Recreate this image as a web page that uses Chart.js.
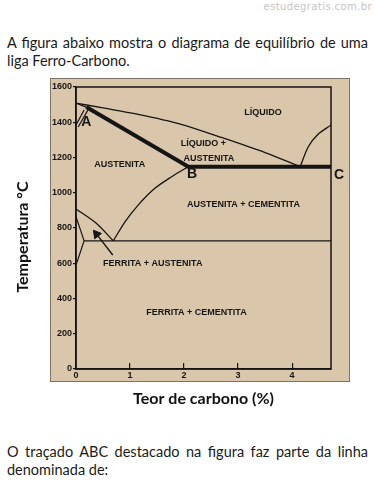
<!DOCTYPE html>
<html>
<head>
<meta charset="utf-8">
<script src="https://cdn.jsdelivr.net/npm/chart.js@4/dist/chart.umd.min.js"></script>
<style>
  body { margin: 0; background: #fff; width: 375px; height: 483px; position: relative; overflow: hidden; }
  .mark { position: absolute; right: 3px; top: 1px; font: 10px "DejaVu Sans"; color: #c4c4c4; letter-spacing: .4px; }
  .txt { position: absolute; left: 7px; width: 361px; font: 14.5px Lato; line-height: 18px; color: #1a1a1a; }
  .just { text-align: justify; text-align-last: justify; }
  #wrap { position: absolute; left: 0; top: 78px; width: 375px; height: 340px; }
</style>
</head>
<body>
<div class="mark">estudegratis.com.br</div>
<div class="txt" style="top:34px">
  <div class="just">A figura abaixo mostra o diagrama de equilíbrio de uma</div>
  <div>liga Ferro-Carbono.</div>
</div>
<div id="wrap"><canvas id="fe_c" width="375" height="340"></canvas></div>
<div class="txt" style="top:443px">
  <div class="just">O traçado ABC destacado na figura faz parte da linha</div>
  <div>denominada de:</div>
</div>
<script>
// axis ticks
const xTicks = [0, 1, 2, 3, 4];
const yTicks = [0, 200, 400, 600, 800, 1000, 1200, 1400, 1600];

// lines of the diagram, carbon % / temperature °C
const liquidusC = [0, 0.5, 1.11, 1.93, 2.67, 3.5, 4.15];
const liquidusT = [1509, 1481, 1447, 1390, 1316, 1228, 1148];

const liquidus2C = [4.15, 4.3, 4.48, 4.72];
const liquidus2T = [1148, 1261, 1332, 1384];

const deltaC = [0, 0.19];
const deltaT = [1509, 1486];

const delta1C = [0.15, 0];
const delta1T = [1469, 1384];
const delta2C = [0.22, 0.04];
const delta2T = [1469, 1373];

// traçado ABC
const abcC = [0.19, 2.08, 4.72];
const abcT = [1486, 1148, 1148];

const a3C = [0, 0.37, 0.69];
const a3T = [908, 828, 727];

const acmC = [0.69, 0.91, 1.15, 1.46, 1.77, 2.08];
const acmT = [727, 836, 930, 1025, 1091, 1148];

const alphaC = [0, 0.15];
const alphaT = [864, 727];
const solvusC = [0.15, 0];
const solvusT = [727, 590];

const eutectoidC = [0.15, 4.72];
const eutectoidT = [727, 727];

const arrowC = [0.68, 0.38];
const arrowT = [647, 765];

const regionText = ['LÍQUIDO', 'LÍQUIDO +', 'AUSTENITA', 'AUSTENITA', 'AUSTENITA + CEMENTITA', 'FERRITA + AUSTENITA', 'FERRITA + CEMENTITA'];
const regionC = [3.46, 2.36, 2.46, 0.81, 3.10, 1.42, 2.23];
const regionT = [1458, 1282, 1197, 1163, 936, 601, 323];

const pointText = ['A', 'B', 'C'];
const pointC = [0.19, 2.15, 4.87];
const pointT = [1401, 1106, 1101];

function pts(cs, ts) {
  return cs.map((c, i) => ({ x: c, y: ts[i] }));
}

function curve(cs, ts, width, tension) {
  return {
    data: pts(cs, ts),
    borderColor: '#151515',
    borderWidth: width,
    pointRadius: 0,
    tension: tension,
    fill: false
  };
}

const ink = '#151515';
const tickFont = { family: '"Liberation Sans"', weight: 'bold', size: 9 };

const paper = {
  id: 'paper',
  beforeDraw(chart) {
    const ctx = chart.ctx;
    ctx.save();
    ctx.fillStyle = '#dac7ab';
    ctx.fillRect(50, 0, 300, 304);
    ctx.strokeStyle = '#7d7366';
    ctx.lineWidth = 1;
    ctx.strokeRect(50.5, 0.5, 299, 303);
    ctx.restore();
  },
  afterDraw(chart) {
    const { ctx, chartArea, scales } = chart;
    ctx.save();
    ctx.strokeStyle = ink;
    ctx.lineWidth = 1.5;
    ctx.strokeRect(chartArea.left, chartArea.top, chartArea.right - chartArea.left, chartArea.bottom - chartArea.top);
    ctx.fillStyle = ink;
    ctx.textAlign = 'center';
    ctx.textBaseline = 'middle';
    ctx.font = 'bold 9px "Liberation Sans"';
    regionText.forEach((t, i) => {
      ctx.fillText(t, scales.x.getPixelForValue(regionC[i]), scales.y.getPixelForValue(regionT[i]));
    });
    ctx.font = 'bold 14px "Liberation Sans"';
    pointText.forEach((t, i) => {
      ctx.fillText(t, scales.x.getPixelForValue(pointC[i]), scales.y.getPixelForValue(pointT[i]));
    });
    ctx.restore();
  }
};

const arrow = curve(arrowC, arrowT, 1.4, 0);
arrow.pointRadius = [0, 5];
arrow.pointStyle = 'triangle';
arrow.pointRotation = [0, -38];
arrow.pointBackgroundColor = ink;
arrow.pointBorderColor = ink;
arrow.pointBorderWidth = 1;

new Chart(document.getElementById('fe_c'), {
  type: 'line',
  data: {
    datasets: [
      curve(liquidusC, liquidusT, 1.3, 0.3),
      curve(liquidus2C, liquidus2T, 1.3, 0.3),
      curve(deltaC, deltaT, 1.2, 0),
      curve(delta1C, delta1T, 1.2, 0),
      curve(delta2C, delta2T, 1.2, 0),
      curve(abcC, abcT, 4, 0),
      curve(a3C, a3T, 1.3, 0.3),
      curve(acmC, acmT, 1.3, 0.3),
      curve(alphaC, alphaT, 1.2, 0),
      curve(solvusC, solvusT, 1.2, 0),
      curve(eutectoidC, eutectoidT, 1.3, 0),
      arrow
    ]
  },
  options: {
    responsive: false,
    animation: false,
    layout: { padding: { left: 0, right: 44, top: 9, bottom: 0 } },
    plugins: { legend: { display: false }, tooltip: { enabled: false } },
    scales: {
      x: {
        type: 'linear',
        min: 0,
        max: 4.72,
        afterBuildTicks: s => { s.ticks = xTicks.map(v => ({ value: v })); },
        afterFit: s => { s.height = 49; },
        grid: { drawOnChartArea: false, tickLength: -6, color: ink, lineWidth: 1.2 },
        border: { color: ink, width: 1.5 },
        ticks: { padding: 7, color: ink, font: tickFont, callback: v => String(v) },
        title: {
          display: true,
          text: 'Teor de carbono (%)',
          color: '#111',
          font: { family: 'Lato', weight: 'bold', size: 16 },
          padding: { top: 0, bottom: 10 }
        }
      },
      y: {
        type: 'linear',
        min: 0,
        max: 1600,
        afterBuildTicks: s => { s.ticks = yTicks.map(v => ({ value: v })); },
        afterFit: s => { s.width = 76; },
        grid: { drawOnChartArea: false, tickLength: 3, color: ink, lineWidth: 1.2 },
        border: { color: ink, width: 1.5 },
        ticks: { padding: 1, color: ink, font: tickFont, callback: v => String(v) },
        title: {
          display: true,
          text: 'Temperatura °C\u2002\u2002\u2009',
          color: '#111',
          font: { family: 'Lato', weight: 'bold', size: 16 },
          padding: { top: 13, bottom: 0 }
        }
      }
    }
  },
  plugins: [paper]
});
</script>
</body>
</html>
